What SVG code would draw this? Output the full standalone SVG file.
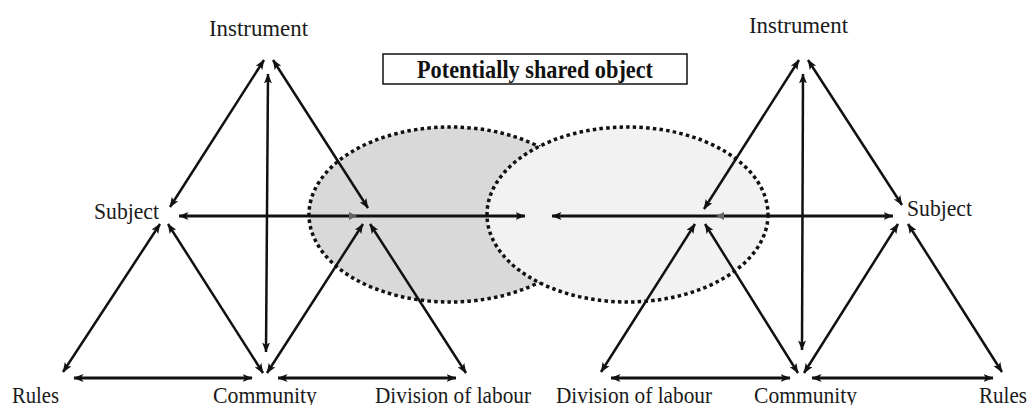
<svg xmlns="http://www.w3.org/2000/svg" width="1030" height="405" viewBox="0 0 1030 405">
<style>
.lbl{font-family:"Liberation Serif","Times New Roman",serif;font-size:24px;fill:#1a1a1a}
.ttl{font-family:"Liberation Serif","Times New Roman",serif;font-size:26px;font-weight:bold;fill:#111}
.ln{stroke:#111;stroke-width:2.5;fill:none;marker-start:url(#ah);marker-end:url(#ah)}
.hz{stroke:#111;stroke-width:3;fill:none;marker-start:url(#ah);marker-end:url(#ah)}
.ell{stroke:#111;stroke-width:3.5;stroke-dasharray:3.5 3.2}
</style>
<defs>
<marker id="ah" viewBox="0 0 10 8" refX="9.5" refY="4" markerWidth="10" markerHeight="8" markerUnits="userSpaceOnUse" orient="auto-start-reverse">
<path d="M0,0 L10,4 L0,8 L2.5,4 z" fill="#111"/>
</marker>
</defs>
<rect width="1030" height="405" fill="#ffffff"/>
<g id="objects">
<ellipse id="object-left" class="ell" cx="450" cy="214.5" rx="141" ry="87.5" fill="#d9d9d9"/>
<ellipse id="object-right" class="ell" cx="627.5" cy="214.5" rx="140.5" ry="87.5" fill="#f2f2f2"/>
</g>
<g id="shared-object-label">
<rect x="383" y="54" width="304" height="30" fill="#ffffff" stroke="#111" stroke-width="1.5"/>
<text class="ttl" x="417" y="78" textLength="236" lengthAdjust="spacingAndGlyphs">Potentially shared object</text>
</g>
<g id="connectors">
<line class="ln" x1="264" y1="60" x2="170" y2="207"/>
<line class="ln" x1="273" y1="60" x2="368" y2="208"/>
<line class="ln" x1="268" y1="74" x2="266" y2="352"/>
<line class="hz" x1="179" y1="216" x2="525" y2="216"/>
<path d="M349,212 L357,216 L349,220 z" fill="#666"/>
<line class="ln" x1="160" y1="224" x2="63" y2="372"/>
<line class="ln" x1="168" y1="224" x2="263" y2="373"/>
<line class="ln" x1="267" y1="373" x2="363" y2="224"/>
<line class="ln" x1="370" y1="224" x2="466" y2="373"/>
<line class="hz" x1="74" y1="378" x2="252" y2="378"/>
<line class="hz" x1="278" y1="378" x2="456" y2="378"/>
<line class="ln" x1="799" y1="60" x2="704" y2="209"/>
<line class="ln" x1="808" y1="60" x2="902" y2="205"/>
<line class="ln" x1="803" y1="74" x2="802" y2="350"/>
<line class="hz" x1="552" y1="216" x2="893" y2="216"/>
<path d="M724,212 L716,216 L724,220 z" fill="#666"/>
<line class="ln" x1="695" y1="224" x2="601" y2="372"/>
<line class="ln" x1="705" y1="224" x2="798" y2="373"/>
<line class="ln" x1="804" y1="373" x2="898" y2="224"/>
<line class="ln" x1="908" y1="224" x2="1002" y2="372"/>
<line class="hz" x1="611" y1="378" x2="790" y2="378"/>
<line class="hz" x1="812" y1="378" x2="993" y2="378"/>
</g>
<g id="left-instrument"><text class="lbl" x="209" y="36" textLength="99" lengthAdjust="spacingAndGlyphs">Instrument</text></g>
<g id="left-subject"><text class="lbl" x="94" y="219" textLength="65" lengthAdjust="spacingAndGlyphs">Subject</text></g>
<g id="left-rules"><text class="lbl" x="12" y="403" textLength="47" lengthAdjust="spacingAndGlyphs">Rules</text></g>
<g id="left-community"><text class="lbl" x="213" y="403" textLength="104" lengthAdjust="spacingAndGlyphs">Community</text></g>
<g id="left-division"><text class="lbl" x="375" y="403" textLength="156" lengthAdjust="spacingAndGlyphs">Division of labour</text></g>
<g id="right-instrument"><text class="lbl" x="749" y="33" textLength="99" lengthAdjust="spacingAndGlyphs">Instrument</text></g>
<g id="right-subject"><text class="lbl" x="907" y="216" textLength="65" lengthAdjust="spacingAndGlyphs">Subject</text></g>
<g id="right-division"><text class="lbl" x="556" y="403" textLength="156" lengthAdjust="spacingAndGlyphs">Division of labour</text></g>
<g id="right-community"><text class="lbl" x="754" y="403" textLength="103" lengthAdjust="spacingAndGlyphs">Community</text></g>
<g id="right-rules"><text class="lbl" x="979" y="403" textLength="48" lengthAdjust="spacingAndGlyphs">Rules</text></g>
</svg>
